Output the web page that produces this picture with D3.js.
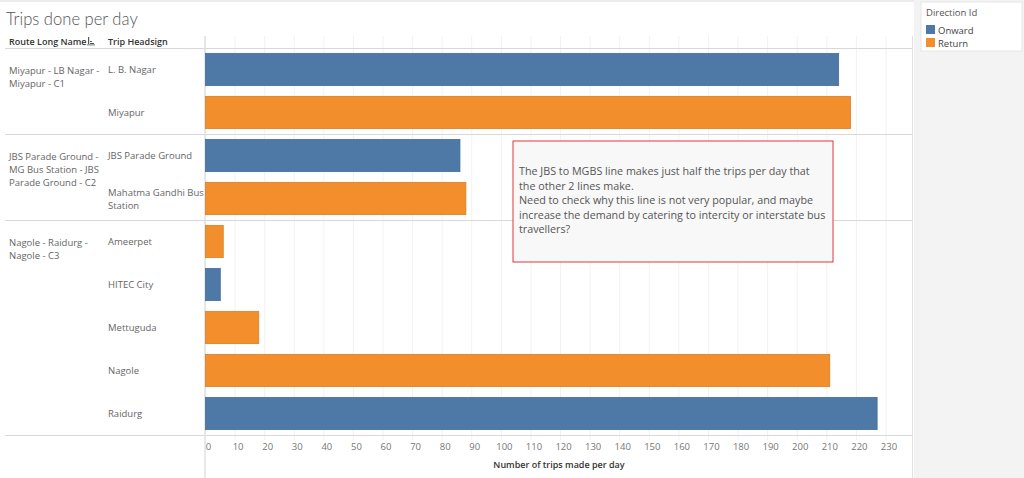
<!DOCTYPE html>
<html><head><meta charset="utf-8">
<script src="https://cdn.jsdelivr.net/npm/d3@7/dist/d3.min.js"></script>
<style>
body{margin:0;background:#fff;}
svg{display:block;font-family:"Open Sans","Noto Sans",sans-serif;}
</style></head>
<body><svg id="c" width="1024" height="478"></svg>
<script>
const routes = ["Miyapur - LB Nagar - Miyapur - C1","JBS Parade Ground - MG Bus Station - JBS Parade Ground - C2","Nagole - Raidurg - Nagole - C3"];
const routeLines = [["Miyapur - LB Nagar -","Miyapur - C1"],["JBS Parade Ground -","MG Bus Station - JBS","Parade Ground - C2"],["Nagole - Raidurg -","Nagole - C3"]];
const headsigns = ["L. B. Nagar","Miyapur","JBS Parade Ground","Mahatma Gandhi Bus Station","Ameerpet","HITEC City","Mettuguda","Nagole","Raidurg"];
const headsignRoute = [0,0,1,1,2,2,2,2,2];
const directions = ["Onward","Return","Onward","Return","Return","Onward","Return","Return","Onward"];
const trips = [214,218,86,88,6,5,18,211,227];
const xTicks = [0,10,20,30,40,50,60,70,80,90,100,110,120,130,140,150,160,170,180,190,200,210,220,230];
const legendItems = ["Onward","Return"];
const note = ["The JBS to MGBS line makes just half the trips per day that","the other 2 lines make.","Need to check why this line is not very popular, and maybe","increase the demand by catering to intercity or interstate bus","travellers?"];

const svg = d3.select("#c");
const color = d3.scaleOrdinal().domain(legendItems).range(["#4e79a7","#f28e2b"]);
const x = d3.scaleLinear().domain([0,230]).range([205.5,886]);
const y = d3.scaleBand().domain(headsigns.map((d,i)=>i)).range([48,435]).paddingInner(0.25).paddingOuter(0.125);

// legend panel background
svg.append("rect").attr("x",914).attr("y",0).attr("width",110).attr("height",478).attr("fill","#f3f3f3");
svg.append("rect").attr("x",921).attr("y",2).attr("width",101).attr("height",49).attr("fill","#fff").attr("stroke","#e6e6e6");
svg.append("rect").attr("x",0).attr("y",0).attr("width",914).attr("height",2).attr("fill","#ececec");
svg.append("line").attr("x1",912.5).attr("x2",912.5).attr("y1",36).attr("y2",478).attr("stroke","#e2e2e2");

// title
svg.append("text").attr("x",6).attr("y",25).text("Trips done per day")
  .attr("font-family","Lato, 'Open Sans', sans-serif").attr("font-weight",300).attr("font-size",16.6).attr("fill","#555");

// headers
svg.append("text").attr("x",9).attr("y",45).text("Route Long Name").attr("font-size",9).attr("font-weight",600).attr("fill","#333");
svg.append("text").attr("x",108).attr("y",45).text("Trip Headsign").attr("font-size",9).attr("font-weight",600).attr("fill","#333");
// sort icon
const si = svg.append("g").attr("fill","#555");
si.append("rect").attr("x",88).attr("y",37).attr("width",1.2).attr("height",7);
si.append("rect").attr("x",90).attr("y",41).attr("width",2).attr("height",1);
si.append("rect").attr("x",90).attr("y",43).attr("width",4).attr("height",1);
si.append("rect").attr("x",87).attr("y",44.5).attr("width",8).attr("height",0.8);

// grid lines
svg.append("g").selectAll("line").data(xTicks).join("line")
  .attr("x1",d=>x(d)).attr("x2",d=>x(d)).attr("y1",36).attr("y2",440)
  .attr("stroke","#f2f2f2").attr("stroke-width",1);

// separators
const groupBounds = [48,134,220,435];
svg.append("g").selectAll("line").data(groupBounds).join("line")
  .attr("x1",5).attr("x2",912).attr("y1",d=>d+0.5).attr("y2",d=>d+0.5)
  .attr("stroke","#d8d8d8").attr("stroke-width",1);

// axis vertical line
svg.append("line").attr("x1",205).attr("x2",205).attr("y1",36).attr("y2",478).attr("stroke","#e0e0e0").attr("stroke-width",1.5);

// bars
svg.append("g").selectAll("rect").data(trips).join("rect")
  .attr("x",x(0)).attr("y",(d,i)=>y(i)).attr("width",d=>x(d)-x(0)).attr("height",y.bandwidth())
  .attr("fill",(d,i)=>color(directions[i]))
  .attr("stroke",(d,i)=>d3.color(color(directions[i])).darker(0.3)).attr("stroke-width",0.8);

// headsign labels
headsigns.forEach((h,i)=>{
  const cy = y(i)+y.bandwidth()/2;
  const lines = h==="Mahatma Gandhi Bus Station" ? ["Mahatma Gandhi Bus","Station"] : [h];
  const t = svg.append("text").attr("x",108).attr("font-size",9.5).attr("fill","#666");
  lines.forEach((l,j)=>{
    t.append("tspan").attr("x",108).attr("y",cy+3.5+(j-(lines.length-1)/2)*13).text(l);
  });
});

// route labels
routeLines.forEach((lines,r)=>{
  const first = headsignRoute.indexOf(r);
  const cy = y(first)+y.bandwidth()/2;
  const t = svg.append("text").attr("font-size",9.5).attr("fill","#666");
  lines.forEach((l,j)=>t.append("tspan").attr("x",9).attr("y",cy+4+j*13).text(l));
});

// x axis tick labels
svg.append("g").selectAll("text").data(xTicks).join("text")
  .attr("x",d=>x(d)+3).attr("y",450).attr("text-anchor","middle")
  .attr("font-size",9.5).attr("fill","#777").text(d=>d);
svg.append("text").attr("x",559).attr("y",468).attr("text-anchor","middle")
  .attr("font-size",9).attr("font-weight",600).attr("fill","#333").text("Number of trips made per day");

// annotation
svg.append("rect").attr("x",513).attr("y",141).attr("width",320).attr("height",121)
  .attr("fill","#f8f8f8").attr("stroke","#e0393e").attr("stroke-width",1);
const nt = svg.append("text").attr("font-size",10.75).attr("fill","#555");
note.forEach((l,j)=>nt.append("tspan").attr("x",519).attr("y",175+j*14.6).text(l));

// legend
svg.append("text").attr("x",926).attr("y",16).text("Direction Id").attr("font-size",9.5).attr("fill","#555");
const lg = svg.append("g").selectAll("g").data(legendItems).join("g")
  .attr("transform",(d,i)=>`translate(926,${25+i*13})`);
lg.append("rect").attr("width",9).attr("height",9).attr("fill",d=>color(d));
lg.append("text").attr("x",12).attr("y",8.5).attr("font-size",9.5).attr("fill","#444").text(d=>d);
</script></body></html>
